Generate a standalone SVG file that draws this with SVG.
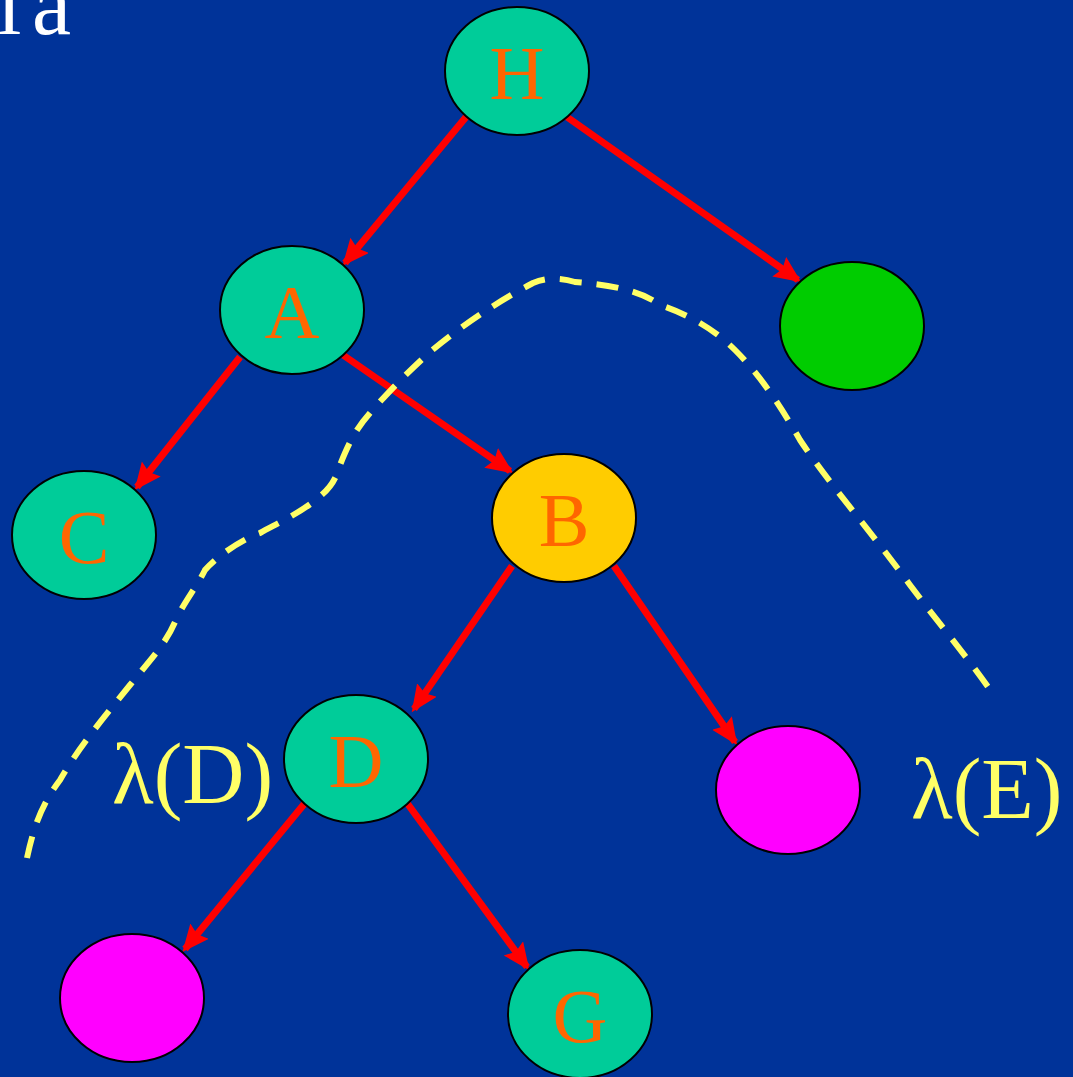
<svg xmlns="http://www.w3.org/2000/svg" width="1073" height="1077" viewBox="0 0 1073 1077">
<defs>
<style>
.node{stroke:#000;stroke-width:2}
.teal{fill:#00CC99}
.lbl{font-family:"Liberation Serif","Times New Roman",serif;font-size:76px;fill:#FF6600;text-anchor:middle}
.lam{font-family:"Liberation Serif","Times New Roman",serif;font-size:86px;fill:#FFFF66}
.edge{stroke:#FF0000;stroke-width:7;fill:none;marker-end:url(#ah)}
</style>
<marker id="ah" markerUnits="userSpaceOnUse" markerWidth="30" markerHeight="26" refX="23" refY="12" orient="auto">
<path d="M0,0 L27,12 L0,24 L4,12 Z" fill="#FF0000"/>
</marker>
</defs>
<rect width="1073" height="1077" fill="#003399"/>
<text x="-3 32" y="34" font-family="Liberation Serif, Times New Roman, serif" font-size="88" fill="#FFFFFF">la</text>
<g id="connectors">
<line class="edge" x1="466" y1="117" x2="345" y2="263"/>
<line class="edge" x1="567" y1="117" x2="798" y2="280"/>
<line class="edge" x1="240" y1="357" x2="137" y2="487"/>
<line class="edge" x1="343" y1="355" x2="510" y2="471"/>
<line class="edge" x1="512" y1="566" x2="414" y2="709"/>
<line class="edge" x1="614" y1="566" x2="735" y2="742"/>
<line class="edge" x1="305" y1="803" x2="185" y2="949"/>
<line class="edge" x1="407" y1="803" x2="527" y2="967"/>
</g>
<path id="boundary" d="M27,858 C35,820 45,800 60,780 C80,745 110,710 130,685 C150,660 165,645 175,622 C185,600 195,590 205,570 C215,558 240,540 260,533 C280,522 300,513 318,498 C332,487 336,478 340,465 C348,445 355,430 370,413 C390,390 410,370 430,352 C460,327 495,303 533,283 C545,278 560,277 575,282 C610,285 640,290 660,305 C690,315 715,330 735,350 C760,375 780,405 800,440 C830,485 870,530 910,585 C940,625 970,660 995,697" fill="none" stroke="#FFFF66" stroke-width="6" stroke-dasharray="22,15"/>
<g id="node-H"><ellipse class="node teal" cx="517" cy="71" rx="72" ry="64"/><text class="lbl" x="517" y="99">H</text></g>
<g id="node-A"><ellipse class="node teal" cx="292" cy="310" rx="72" ry="64"/><text class="lbl" x="292" y="338">A</text></g>
<g id="node-right"><ellipse class="node" fill="#00CC00" cx="852" cy="326" rx="72" ry="64"/></g>
<g id="node-C"><ellipse class="node teal" cx="84" cy="535" rx="72" ry="64"/><text class="lbl" x="84" y="563">C</text></g>
<g id="node-B"><ellipse class="node" fill="#FFCC00" cx="564" cy="518" rx="72" ry="64"/><text class="lbl" x="564" y="546">B</text></g>
<g id="node-D"><ellipse class="node teal" cx="356" cy="759" rx="72" ry="64"/><text class="lbl" x="356" y="787">D</text></g>
<g id="node-E"><ellipse class="node" fill="#FF00FF" cx="788" cy="790" rx="72" ry="64"/></g>
<g id="node-F"><ellipse class="node" fill="#FF00FF" cx="132" cy="998" rx="72" ry="64"/></g>
<g id="node-G"><ellipse class="node teal" cx="580" cy="1014" rx="72" ry="64"/><text class="lbl" x="580" y="1042">G</text></g>
<text class="lam" x="112" y="803">λ(D)</text>
<text class="lam" x="911" y="818">λ(E)</text>
</svg>
